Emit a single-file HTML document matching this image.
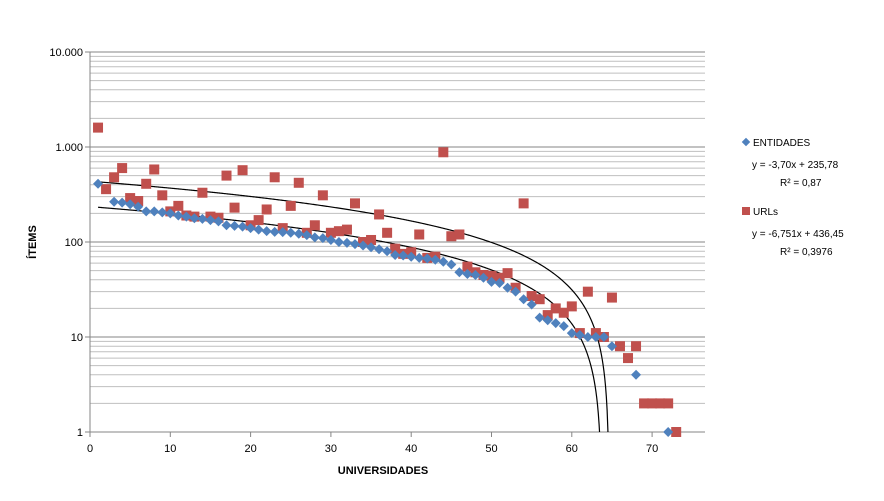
<!DOCTYPE html>
<html><head><meta charset="utf-8"><style>
body{margin:0;background:#fff;font-family:"Liberation Sans",Arial,sans-serif}
svg text{font-family:"Liberation Sans",Arial,sans-serif;fill:#000}
</style></head><body>
<svg id="c" width="884" height="496" xmlns="http://www.w3.org/2000/svg">
<g id="grid"></g>
<g id="axes"></g>
<g id="trend"></g>
<g id="marks"></g>
<text x="36" y="242" font-size="11" font-weight="bold" text-anchor="middle" transform="rotate(-90 36 242)">ÍTEMS</text>
<text x="383" y="474" font-size="11" font-weight="bold" text-anchor="middle">UNIVERSIDADES</text>
<g>
<g>
<rect x="743" y="139" width="6" height="6" fill="#4f81bd" transform="rotate(45 746 142)"/>
<text x="753" y="146" font-size="10">ENTIDADES</text></g>
<text x="752" y="168" font-size="10">y = -3,70x + 235,78</text>
<text x="780" y="186" font-size="10">R² = 0,87</text>
<g>
<rect x="742" y="207" width="8" height="8" fill="#c0504d"/>
<text x="753" y="215" font-size="10">URLs</text></g>
<text x="752" y="237" font-size="10">y = -6,751x + 436,45</text>
<text x="780" y="255" font-size="10">R² = 0,3976</text>
</g>
</svg>
<script>
const entX=[1,3,4,5,6,7,8,9,10,11,12,13,14,15,16,17,18,19,20,21,22,23,24,25,26,27,28,29,30,31,32,33,34,35,36,37,38,39,40,41,42,43,44,45,46,47,48,49,50,51,52,53,54,55,56,57,58,59,60,61,62,63,64,65,68,72];
const entY=[410,265,260,250,235,210,210,205,200,190,185,178,175,170,165,150,148,145,140,135,130,128,127,125,122,118,112,110,105,100,98,95,92,88,84,80,73,72,70,68,67,65,62,58,48,46,45,42,38,37,33,30,25,22,16,15,14,13,11,10.5,10,10,10,8,4,1];
const urlY=[1600,360,480,600,290,270,410,580,310,210,240,190,185,330,185,180,500,230,570,150,170,220,480,140,240,420,125,150,310,125,130,135,255,100,105,195,125,85,75,78,120,68,70,880,115,120,55,48,45,44,42,47,33,255,27,25,17,20,18,21,11,30,11,10,26,8,6,8,2,2,2,2,1];
const trendA=[235.78,436.45];
const trendB=[-3.70,-6.751];
const yTicks=["1","10","100","1.000","10.000"];
const xTicks=[0,10,20,30,40,50,60,70];
const NS="http://www.w3.org/2000/svg";
const X0=90,XS=8.03,YB=432,DEC=95,XR=705;
function sx(v){return X0+v*XS}
function sy(v){return YB-Math.log10(v)*DEC}
function mk(t,a,p){const e=document.createElementNS(NS,t);for(const k in a)e.setAttribute(k,a[k]);p.appendChild(e);return e}
const grid=document.getElementById('grid'),axes=document.getElementById('axes'),trend=document.getElementById('trend'),marks=document.getElementById('marks');
for(let d=0;d<4;d++)for(let m=1;m<=10;m++){const v=m*Math.pow(10,d);const y=sy(v);
 const l=mk('line',{x1:X0,x2:XR,y1:y,y2:y,stroke:m==1||m==10?'#868686':'#bfbfbf','stroke-width':1},grid);
 
 }
let a=mk('line',{x1:X0,x2:X0,y1:sy(10000),y2:YB,stroke:'#868686'},axes);

a=mk('line',{x1:X0,x2:XR,y1:YB,y2:YB,stroke:'#868686'},axes);

yTicks.forEach((t,i)=>{const y=sy(Math.pow(10,i));
 mk('line',{x1:X0-5,x2:X0,y1:y,y2:y,stroke:'#868686'},axes);
 const e=mk('text',{x:X0-7,y:y+4,'font-size':11,'text-anchor':'end'},axes);e.textContent=t;
 
 });
xTicks.forEach(t=>{const x=sx(t);
 mk('line',{x1:x,x2:x,y1:YB,y2:YB+5,stroke:'#868686'},axes);
 const e=mk('text',{x:x,y:YB+20,'font-size':11,'text-anchor':'middle'},axes);e.textContent=t;
 
 });
trendA.forEach((A,i)=>{const B=trendB[i];let pts=[];
 const xEnd=(1-A)/B;
 for(let x=1;x<xEnd;x+=0.1)pts.push(sx(x)+','+sy(A+B*x));
 pts.push(sx(xEnd)+','+YB);
 const p=mk('polyline',{points:pts.join(' '),fill:'none',stroke:'#000','stroke-width':1.2},trend);
 
 });
urlY.forEach((v,i)=>{const x=sx(i+1),y=sy(v);
 const r=mk('rect',{x:x-5,y:y-5,width:10,height:10,fill:'#c0504d'},marks);
 
 });
entX.forEach((xv,i)=>{const x=sx(xv),y=sy(entY[i]);
 const r=mk('polygon',{points:`${x},${y-5} ${x+5},${y} ${x},${y+5} ${x-5},${y}`,fill:'#4f81bd'},marks);
 
 });
</script>
</body></html>
